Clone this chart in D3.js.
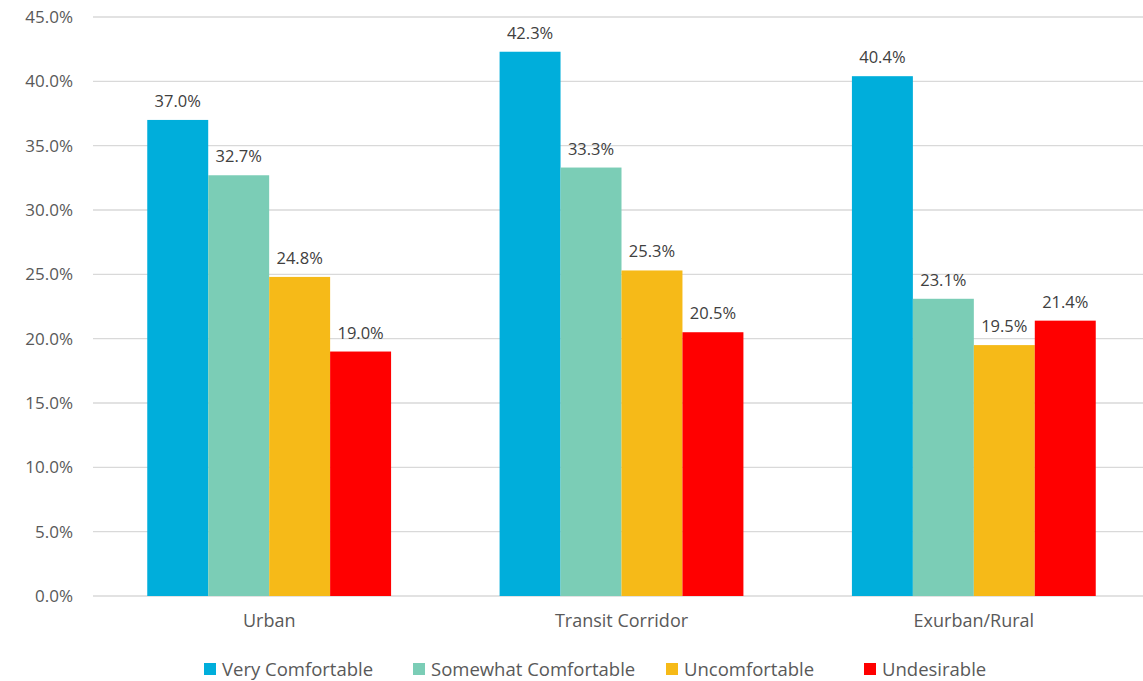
<!DOCTYPE html>
<html><head><meta charset="utf-8">
<script src="https://cdn.jsdelivr.net/npm/d3@7"></script>
<style>body{margin:0;background:#fff;} text{font-family:"Open Sans",sans-serif;}</style>
</head><body>
<svg id="c" width="1143" height="681"></svg>
<script>
const categories = ["Urban", "Transit Corridor", "Exurban/Rural"];
const seriesNames = ["Very Comfortable", "Somewhat Comfortable", "Uncomfortable", "Undesirable"];
const veryComfortable = [37.0, 42.3, 40.4];
const somewhatComfortable = [32.7, 33.3, 23.1];
const uncomfortable = [24.8, 25.3, 19.5];
const undesirable = [19.0, 20.5, 21.4];
const seriesValues = [veryComfortable, somewhatComfortable, uncomfortable, undesirable];
const colors = ["#00AEDB", "#7BCDB6", "#F6BA18", "#FF0000"];
const yTicks = [0, 5, 10, 15, 20, 25, 30, 35, 40, 45];

const svg = d3.select("#c");
const mLeft = 93, mRight = 1150, mTop = 17, mBottom = 596;
const x0 = d3.scaleBand().domain(categories).range([mLeft, mRight]).paddingInner(0).paddingOuter(0);
const x1 = d3.scaleBand().domain(seriesNames).range([0, x0.bandwidth()]).paddingInner(0).paddingOuter(0.89);
const y = d3.scaleLinear().domain([0, 45]).range([mBottom, mTop]);

// gridlines
svg.append("g").selectAll("line").data(yTicks).join("line")
  .attr("x1", mLeft).attr("x2", mRight)
  .attr("y1", d => y(d)).attr("y2", d => y(d))
  .attr("stroke", "#d9d9d9").attr("stroke-width", 1.3);

// y axis labels
const yAxis = d3.axisLeft(y).tickValues(yTicks).tickFormat(d => d.toFixed(1) + "%").tickSize(0).tickPadding(0);
const ya = svg.append("g").attr("transform", "translate(73,0)").call(yAxis);
ya.select(".domain").remove();
ya.selectAll("text").attr("font-size", 17).attr("fill", "#595959").attr("font-family", "Open Sans, sans-serif");

// bars
const data = [];
categories.forEach((c, i) => seriesNames.forEach((s, j) => data.push({c, s, j, v: seriesValues[j][i]})));
svg.append("g").selectAll("rect").data(data).join("rect")
  .attr("x", d => x0(d.c) + x1(d.s))
  .attr("y", d => y(d.v))
  .attr("width", x1.bandwidth())
  .attr("height", d => y(0) - y(d.v))
  .attr("fill", d => colors[d.j]);

// data labels
svg.append("g").selectAll("text").data(data).join("text")
  .attr("x", d => x0(d.c) + x1(d.s) + x1.bandwidth() / 2)
  .attr("y", d => y(d.v) - 13)
  .attr("text-anchor", "middle")
  .attr("font-size", 16.5).attr("fill", "#404040")
  .text(d => d.v.toFixed(1) + "%");

// x axis labels
const xAxis = d3.axisBottom(x0).tickSize(0).tickPadding(0);
const xa = svg.append("g").attr("transform", `translate(0,${mBottom + 18})`).call(xAxis);
xa.select(".domain").remove();
xa.selectAll("text").attr("font-size", 18).attr("fill", "#595959").attr("font-family", "Open Sans, sans-serif");

// legend
const legendX = [204, 413, 666, 864];
const lg = svg.append("g").selectAll("g").data(seriesNames).join("g")
  .attr("transform", (d, i) => `translate(${legendX[i]},663)`);
lg.append("rect").attr("width", 12).attr("height", 12).attr("fill", (d, i) => colors[i]);
lg.append("text").attr("x", 18).attr("y", 12.5).attr("font-size", 18.5).attr("fill", "#595959").text(d => d);
</script>
</body></html>
